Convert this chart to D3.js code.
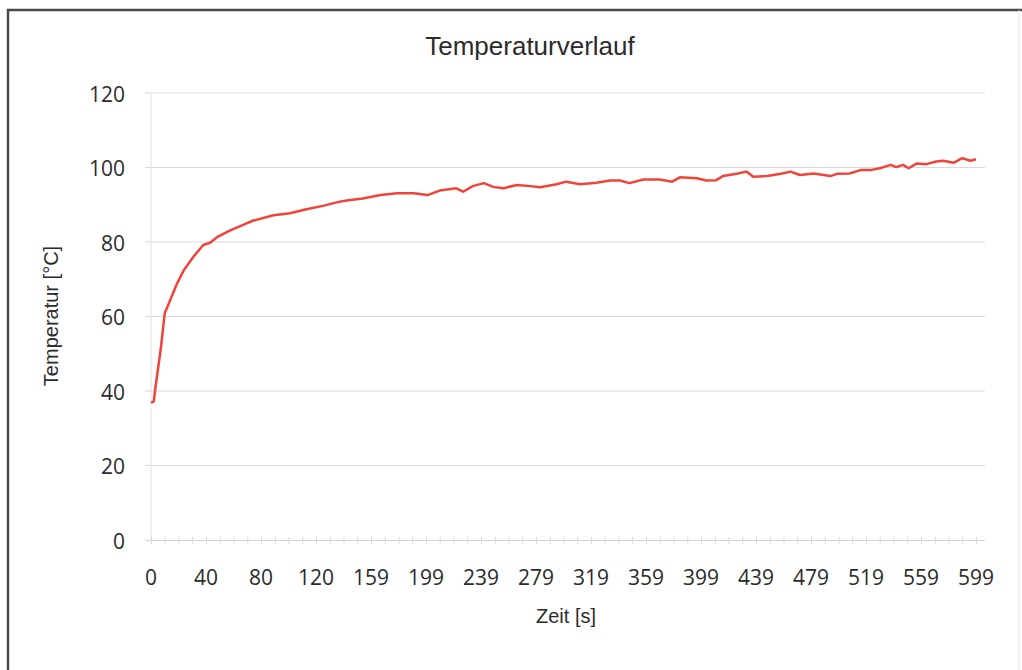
<!DOCTYPE html>
<html>
<head>
<meta charset="utf-8">
<script src="https://cdn.jsdelivr.net/npm/d3@7"></script>
<style>
  body { margin: 0; background: #fff; }
  svg { display: block; }
</style>
</head>
<body>
<div id="chart"></div>
<script>
const zeit = [0, 1, 2, 3, 7, 10, 14, 19, 24, 31, 38, 43, 48, 58, 67, 74, 89, 101, 113, 125,
  138, 145, 154, 167, 179, 191, 201, 210, 222, 227, 234, 242, 249, 256, 266, 276, 283,
  295, 302, 312, 324, 334, 341, 348, 358, 370, 379, 385, 397, 404, 411, 416, 426, 433,
  438, 448, 458, 465, 472, 482, 494, 499, 508, 516, 523, 530, 538, 542, 547, 551, 557,
  564, 571, 576, 584, 590, 596, 600];
const temperatur = [37.0, 37.0, 37.2, 40.3, 51.0, 60.9, 64.4, 68.9, 72.5, 76.1, 79.2, 79.8,
  81.3, 83.2, 84.6, 85.7, 87.2, 87.7, 88.8, 89.7, 90.9, 91.3, 91.7, 92.6, 93.1, 93.1, 92.6,
  93.8, 94.4, 93.5, 95.0, 95.8, 94.8, 94.4, 95.3, 95.0, 94.7, 95.5, 96.2, 95.5, 95.9, 96.5,
  96.5, 95.8, 96.8, 96.8, 96.2, 97.4, 97.1, 96.5, 96.6, 97.7, 98.3, 98.9, 97.5, 97.7, 98.3,
  98.9, 98.0, 98.4, 97.7, 98.3, 98.4, 99.3, 99.3, 99.8, 100.7, 100.1, 100.7, 99.8, 101.1,
  100.9, 101.6, 101.8, 101.3, 102.5, 101.8, 102.2];
// category axis labels, every 40th sample
const xTickPos = [0, 40, 80, 120, 160, 200, 240, 280, 320, 360, 400, 440, 480, 520, 560, 600];
const xTickLabels = ['0', '40', '80', '120', '159', '199', '239', '279', '319', '359', '399',
  '439', '479', '519', '559', '599'];
const yTicks = [0, 20, 40, 60, 80, 100, 120];

const width = 1022, height = 670;
const plot = { left: 151, right: 976, top: 93, bottom: 540 };

const svg = d3.select('#chart').append('svg')
  .attr('width', width)
  .attr('height', height);

// chart frame
svg.append('path')
  .attr('d', `M8,${height} V10 H${width}`)
  .attr('fill', 'none')
  .attr('stroke', '#4a4a4a')
  .attr('stroke-width', 2.5);
svg.append('line')
  .attr('x1', 1019).attr('x2', 1019)
  .attr('y1', 10).attr('y2', height)
  .attr('stroke', '#e4e4e4');

const x = d3.scaleLinear().domain([0, 600]).range([plot.left, plot.right]);
const y = d3.scaleLinear().domain([0, 120]).range([plot.bottom, plot.top]);

// gridlines
svg.append('g')
  .selectAll('line')
  .data(yTicks.filter(d => d > 0))
  .enter().append('line')
  .attr('x1', plot.left - 6)
  .attr('x2', 985)
  .attr('y1', d => y(d))
  .attr('y2', d => y(d))
  .attr('stroke', '#d9d9d9')
  .attr('stroke-width', 1);

// value axis line
svg.append('line')
  .attr('x1', plot.left).attr('x2', plot.left)
  .attr('y1', plot.top).attr('y2', plot.bottom)
  .attr('stroke', '#e2e2e2');

// y tick labels
svg.append('g')
  .selectAll('text')
  .data(yTicks)
  .enter().append('text')
  .attr('x', 125)
  .attr('y', d => y(d) + 1)
  .attr('dy', '0.36em')
  .attr('text-anchor', 'end')
  .style('font-family', '"Open Sans", sans-serif')
  .style('font-size', '21px')
  .style('fill', '#2b2b2b')
  .text(d => d);

// category axis with minor ticks
const xAxis = d3.axisBottom(x)
  .tickValues(d3.range(0, 601, 10))
  .tickSize(6)
  .tickFormat('');
const gx = svg.append('g')
  .attr('transform', `translate(0,${plot.bottom})`)
  .call(xAxis);
gx.select('.domain')
  .attr('stroke', '#d4d4d4')
  .attr('d', `M${plot.left - 6},0.5H985`);
gx.selectAll('.tick line').attr('stroke', '#d9d9d9').attr('y1', -3).attr('y2', 4);

svg.append('g')
  .selectAll('text')
  .data(xTickPos)
  .enter().append('text')
  .attr('x', d => x(d))
  .attr('y', 585)
  .attr('text-anchor', 'middle')
  .style('font-family', '"Open Sans", sans-serif')
  .style('font-size', '21px')
  .style('fill', '#2b2b2b')
  .text((d, i) => xTickLabels[i]);

// series
const points = zeit.map((t, i) => [t, temperatur[i]]);
const line = d3.line()
  .x(d => x(d[0]))
  .y(d => y(d[1]));

svg.append('path')
  .datum(points)
  .attr('d', line)
  .attr('fill', 'none')
  .attr('stroke', '#f0443a')
  .attr('stroke-width', 2.5)
  .attr('stroke-linejoin', 'round');

// titles
svg.append('text')
  .attr('x', 530)
  .attr('y', 55)
  .attr('text-anchor', 'middle')
  .style('font-family', '"Liberation Sans", Arial, sans-serif')
  .style('font-size', '26px')
  .style('fill', '#2b2b2b')
  .text('Temperaturverlauf');

svg.append('text')
  .attr('x', 566)
  .attr('y', 623)
  .attr('text-anchor', 'middle')
  .style('font-family', '"Liberation Sans", Arial, sans-serif')
  .style('font-size', '20px')
  .style('fill', '#2b2b2b')
  .text('Zeit [s]');

svg.append('text')
  .attr('transform', 'translate(58,316) rotate(-90)')
  .attr('text-anchor', 'middle')
  .style('font-family', '"Liberation Sans", Arial, sans-serif')
  .style('font-size', '20px')
  .style('fill', '#2b2b2b')
  .text('Temperatur [°C]');
</script>
</body>
</html>
